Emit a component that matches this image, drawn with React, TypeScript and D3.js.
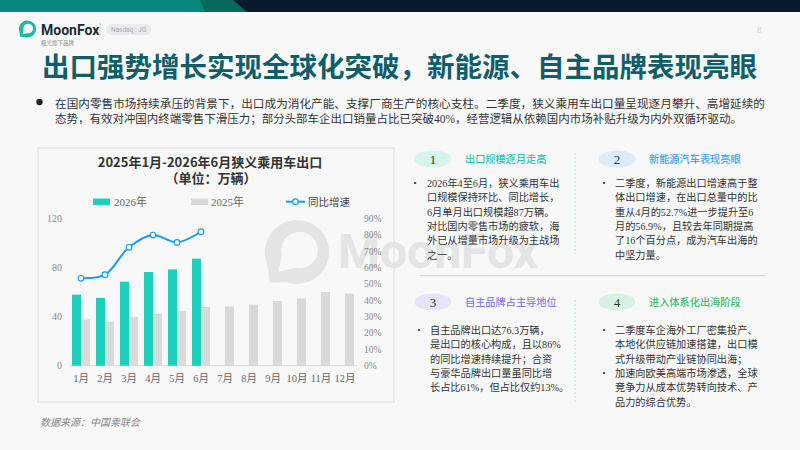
import * as d3 from "d3";
import React from "react";

// chart data
const months = ["1月", "2月", "3月", "4月", "5月", "6月", "7月", "8月", "9月", "10月", "11月", "12月"];
const exports2026 = [58, 55.3, 68.6, 76.5, 78.6, 87.4];
const exports2025 = [37.8, 35.7, 40, 42.4, 44.6, 47.9, 48.4, 49.8, 52.8, 55, 60.2, 58.8];
const yoyGrowth = [53.5, 55.7, 72.5, 80, 75.5, 82];
const leftTicks = [0, 40, 80, 120];
const rightTicks = [0, 10, 20, 30, 40, 50, 60, 70, 80, 90];
const legendNames = ["2026年", "2025年", "同比增速"];

// text blocks
const mainTitle = "出口强势增长实现全球化突破，新能源、自主品牌表现亮眼";
const introLines = [
  "在国内零售市场持续承压的背景下，出口成为消化产能、支撑厂商生产的核心支柱。二季度，狭义乘用车出口量呈现逐月攀升、高增延续的",
  "态势，有效对冲国内终端零售下滑压力；部分头部车企出口销量占比已突破40%，经营逻辑从依赖国内市场补贴升级为内外双循环驱动。",
];
const panelTitles = ["出口规模逐月走高", "新能源汽车表现亮眼", "自主品牌占主导地位", "进入体系化出海阶段"];
const panelBullets: string[][][] = [
  [["2026年4至6月，狭义乘用车出", "口规模保持环比、同比增长，", "6月单月出口规模超87万辆。", "对比国内零售市场的疲软，海", "外已从增量市场升级为主战场", "之一。"]],
  [["二季度，新能源出口增速高于整", "体出口增速，在出口总量中的比", "重从4月的52.7%进一步提升至6", "月的56.9%，且较去年同期提高", "了16个百分点，成为汽车出海的", "中坚力量。"]],
  [["自主品牌出口达76.3万辆，", "是出口的核心构成，且以86%", "的同比增速持续提升；合资", "与豪华品牌出口量虽同比增", "长占比61%，但占比仅约13%。"]],
  [
    ["二季度车企海外工厂密集投产、", "本地化供应链加速搭建，出口模", "式升级带动产业链协同出海；"],
    ["加速向欧美高端市场渗透，全球", "竞争力从成本优势转向技术、产", "品力的综合优势。"],
  ],
];

const TEAL = "#1fcfbd";
const GREY = "#d9d9d9";
const BLUE = "#1a9bf0";
const MIX = "'Liberation Serif', 'Noto Sans CJK SC', serif";
const SANS = "'Noto Sans CJK SC', 'Noto Sans', sans-serif";
const pillFill = ["#d6f3ee", "#d9ecf9", "#e6e3fa", "#d9f1e2"];
const titleFill = ["#2ec4b6", "#3aa2ee", "#8a7ff0", "#3dbb6e"];
const panelPos = [
  { x: 433, y: 159 },
  { x: 617, y: 159 },
  { x: 433, y: 302 },
  { x: 617, y: 302 },
];

function logoPath(cx: number, cy: number, R: number) {
  const r = R * 0.57;
  const ix = cx + R * 0.08;
  const iy = cy - R * 0.06;
  const p = (a: number, rad: number, ox: number, oy: number) => [
    ox + rad * Math.cos((a * Math.PI) / 180),
    oy + rad * Math.sin((a * Math.PI) / 180),
  ];
  const [ax, ay] = p(165, r, ix, iy);
  const [bx, by] = p(105, r, ix, iy);
  const tip = [cx - R * 0.58, cy + R * 0.62];
  const [ox1, oy1] = p(160, R, cx, cy);
  const [ox2, oy2] = p(110, R, cx, cy);
  const otip = [cx - R * 0.85, cy + R * 0.95];
  return (
    `M${ox1},${oy1} A${R},${R} 0 1 1 ${ox2},${oy2} L${otip[0]},${otip[1]} Z ` +
    `M${ax},${ay} A${r},${r} 0 1 1 ${bx},${by} L${tip[0]},${tip[1]} Z`
  );
}

const App: React.FC = () => {
  const x = d3
    .scaleBand<string>()
    .domain(months)
    .range([69, 357])
    .paddingInner(0.25)
    .paddingOuter(0.125);
  const xs = d3.scaleBand<string>().domain(["2026", "2025"]).range([0, x.bandwidth()]);
  const y = d3.scaleLinear().domain([0, 120]).range([365.7, 218.7]);
  const y2 = d3.scaleLinear().domain([0, 90]).range([365.7, 218.7]);
  const cx = (m: string) => (x(m) ?? 0) + x.bandwidth() / 2;

  const linePts: [number, number][] = yoyGrowth.map((v, i) => [cx(months[i]), y2(v)]);
  const linePath = d3.line().curve(d3.curveCatmullRom.alpha(0.5))(linePts) ?? "";

  return (
    <svg
      width={800}
      height={450}
      style={{ position: "absolute", left: 0, top: 0, background: "#f8f8f9" }}
      fontFamily={SANS}
    >
      {/* top band */}
      <rect x={0} y={0} width={800} height={12} fill="#081a2b" />
      <polygon points="0,0 233,0 247,12 0,12" fill="#05695c" />
      <polygon points="0,0 200,0 205,12 0,12" fill="#05877a" />

      {/* header */}
      <path d={logoPath(27.5, 29, 8.5)} fill="#1ab8a5" fillRule="evenodd" />
      <text x={41} y={35} fontSize={14} fontWeight={700} fill="#1d2b3a" fontFamily="Roboto, sans-serif">
        MoonFox
      </text>
      <text x={41} y={45} fontSize={5.5} fill="#888">
        极光旗下品牌
      </text>
      <line x1={100} x2={100} y1={23} y2={37} stroke="#ccc" />
      <rect x={106} y={24} width={45} height={11} rx={5.5} fill="#e8eaee" />
      <text x={128.5} y={32} fontSize={6.5} fill="#aab" textAnchor="middle" fontFamily="Roboto, sans-serif">
        Nasdaq : JG
      </text>
      <text x={757} y={33} fontSize={9} fill="#ccc" fontFamily={MIX}>
        8
      </text>

      <text x={42} y={77} fontSize={27.5} fontWeight={700} fill="#0f5e69" textLength={715} lengthAdjust="spacingAndGlyphs">
        {mainTitle}
      </text>
      <circle cx={39.5} cy={102} r={3.2} fill="#222" />
      {introLines.map((l, i) => (
        <text
          key={i}
          x={55}
          y={107.5 + i * 15.5}
          fontSize={11.6}
          fill="#333"
          fontFamily={MIX}
          textLength={i === 0 ? 710 : 687}
          lengthAdjust="spacingAndGlyphs"
        >
          {l}
        </text>
      ))}

      {/* watermark */}
      <g opacity={0.55}>
        <path d={logoPath(297, 252, 32)} fill="#d4d4d4" fillRule="evenodd" />
        <text x={338} y={268} fontSize={48} fontWeight={700} fill="#d4d4d4" fontFamily="Roboto, sans-serif">
          MoonFox
        </text>
      </g>

      {/* chart panel */}
      <rect x={38} y={148} width={356} height={254} fill="none" stroke="#dedede" />
      <text x={210} y={167} fontSize={13} fontWeight={700} fill="#333" textAnchor="middle">
        2025年1月-2026年6月狭义乘用车出口
      </text>
      <text x={211} y={183} fontSize={13} fontWeight={700} fill="#333" textAnchor="middle">
        （单位：万辆）
      </text>

      {/* legend */}
      <rect x={93} y={198.5} width={17} height={6.5} fill={TEAL} />
      <text x={114} y={205.5} fontSize={11} fill="#666" fontFamily={MIX}>
        {legendNames[0]}
      </text>
      <rect x={191} y={198.5} width={17} height={6.5} fill={GREY} />
      <text x={211} y={205.5} fontSize={11} fill="#666" fontFamily={MIX}>
        {legendNames[1]}
      </text>
      <line x1={286} x2={305} y1={201.7} y2={201.7} stroke={BLUE} strokeWidth={2} />
      <circle cx={295.5} cy={201.7} r={2.8} fill="#fff" stroke={BLUE} strokeWidth={1.2} />
      <text x={308} y={205.5} fontSize={10.5} fill="#444">
        {legendNames[2]}
      </text>

      {/* axes */}
      <line x1={69} x2={357} y1={y(0)} y2={y(0)} stroke="#dcdcdc" />
      {leftTicks.map((t) => (
        <text key={t} x={62} y={y(t) + 3.5} fontSize={10} fill="#888" textAnchor="end" fontFamily={MIX}>
          {t}
        </text>
      ))}
      {rightTicks.map((t) => (
        <text key={t} x={364} y={y2(t) + 3.3} fontSize={9.5} fill="#888" fontFamily={MIX}>
          {t}%
        </text>
      ))}
      {months.map((m) => (
        <text key={m} x={cx(m)} y={382} fontSize={10.5} fill="#666" textAnchor="middle" fontFamily={MIX}>
          {m}
        </text>
      ))}

      {/* bars */}
      {exports2025.map((v, i) => (
        <rect
          key={"b25" + i}
          x={(x(months[i]) ?? 0) + (xs("2025") ?? 0)}
          y={y(v)}
          width={xs.bandwidth()}
          height={y(0) - y(v)}
          fill={GREY}
        />
      ))}
      {exports2026.map((v, i) => (
        <rect
          key={"b26" + i}
          x={(x(months[i]) ?? 0) + (xs("2026") ?? 0)}
          y={y(v)}
          width={xs.bandwidth()}
          height={y(0) - y(v)}
          fill={TEAL}
        />
      ))}

      {/* growth line */}
      <path d={linePath} fill="none" stroke={BLUE} strokeWidth={2} />
      {linePts.map(([px, py], i) => (
        <circle key={"p" + i} cx={px} cy={py} r={2.8} fill="#fff" stroke={BLUE} strokeWidth={1.2} />
      ))}

      <text x={40} y={425.5} fontSize={10} fill="#888" fontStyle="italic">
        数据来源：中国乘联会
      </text>

      {/* right panels */}
      <line x1={575} x2={575} y1={153} y2={254} stroke="#a9e2da" strokeDasharray="2,2" />
      <line x1={575} x2={575} y1={300} y2={403} stroke="#a9e2da" strokeDasharray="2,2" />
      <line x1={420} x2={765} y1={275.7} y2={275.7} stroke="#cfcfcf" />
      {panelTitles.map((t, i) => {
        const p = panelPos[i];
        const left = i % 2 === 0;
        const bulletX = left ? (i === 0 ? 415 : 419) : 604;
        const textX = left ? (i === 0 ? 427 : 430) : 615;
        const top = i < 2 ? 187 : 334;
        let row = 0;
        return (
          <g key={t}>
            <ellipse cx={p.x} cy={p.y} rx={18.5} ry={8.5} fill={pillFill[i]} />
            <text x={p.x} y={p.y + 4.5} fontSize={13} fill="#333" textAnchor="middle" fontFamily={MIX}>
              {i + 1}
            </text>
            <text x={p.x + 32} y={p.y + 4} fontSize={10.2} fontWeight={500} fill={titleFill[i]}>
              {t}
            </text>
            {panelBullets[i].map((lines, bi) => {
              const start = row;
              row += lines.length;
              return (
                <g key={bi}>
                  <text x={bulletX} y={top + start * 14.3} fontSize={10} fill="#333" textAnchor="middle">
                    •
                  </text>
                  {lines.map((l, li) => (
                    <text key={li} x={textX} y={top + (start + li) * 14.3} fontSize={10.2} fill="#333" fontFamily={MIX}>
                      {l}
                    </text>
                  ))}
                </g>
              );
            })}
          </g>
        );
      })}
    </svg>
  );
};

export default App;
